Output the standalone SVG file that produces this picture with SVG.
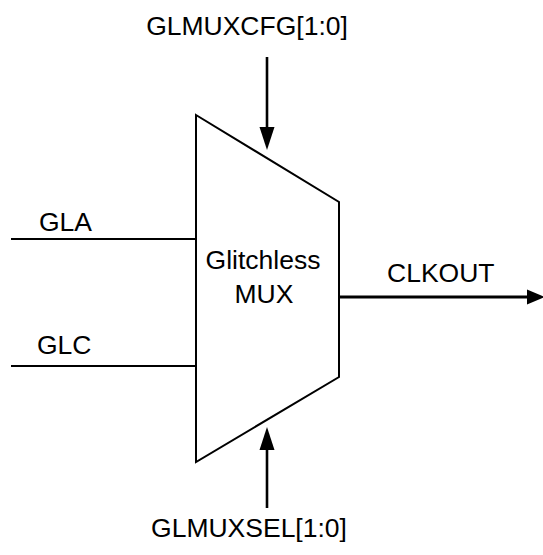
<svg xmlns="http://www.w3.org/2000/svg" width="543" height="555" viewBox="0 0 543 555">
<style>
text{font-family:"Liberation Sans",Arial,sans-serif;font-size:26.5px;fill:#000}
.w{stroke:#000;fill:none}
</style>
<rect width="543" height="555" fill="#fff"/>
<g id="mux">
<path class="w" stroke-width="2" d="M196,115 L339,202 L339,377 L196,462 Z"/>
<text x="263" y="269" text-anchor="middle">Glitchless</text>
<text x="264" y="303" text-anchor="middle">MUX</text>
</g>
<g id="glmuxcfg"><text x="247" y="35" text-anchor="middle">GLMUXCFG[1:0]</text></g>
<g id="glmuxsel"><text x="249" y="537" text-anchor="middle">GLMUXSEL[1:0]</text></g>
<g id="gla"><text x="39" y="231">GLA</text></g>
<g id="glc"><text x="37" y="354">GLC</text></g>
<g id="clkout"><text x="387" y="282">CLKOUT</text></g>
<g id="connectors">
<line class="w" stroke-width="1.8" x1="11" y1="239" x2="196" y2="239"/>
<line class="w" stroke-width="1.8" x1="11" y1="366" x2="196" y2="366"/>
<line class="w" stroke-width="2.6" x1="267" y1="57" x2="267" y2="128"/>
<path d="M259.5,127 L274.5,127 L267,150 Z" fill="#000"/>
<line class="w" stroke-width="2.6" x1="267" y1="508" x2="267" y2="449"/>
<path d="M259.5,450 L274.5,450 L267,427 Z" fill="#000"/>
<line class="w" stroke-width="2.8" x1="340" y1="297" x2="530" y2="297"/>
<path d="M527,289.5 L527,304.5 L545,297 Z" fill="#000"/>
</g>
</svg>
